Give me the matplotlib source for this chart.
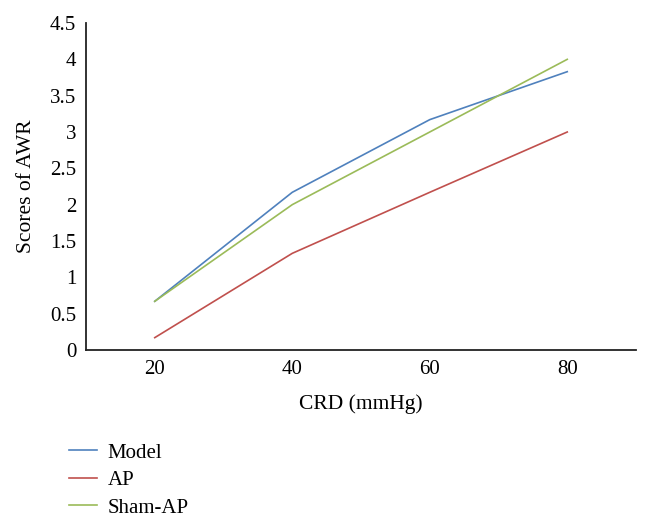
import matplotlib
matplotlib.use("Agg")
import matplotlib.pyplot as plt

categories = ["20", "40", "60", "80"]
model = [0.67, 2.17, 3.17, 3.83]
ap = [0.17, 1.33, 2.17, 3.0]
sham_ap = [0.67, 2.0, 3.0, 4.0]
yticks = [0, 0.5, 1, 1.5, 2, 2.5, 3, 3.5, 4, 4.5]
ytick_labels = ["0", "0.5", "1", "1.5", "2", "2.5", "3", "3.5", "4", "4.5"]

plt.rcParams['font.family'] = ['Liberation Serif', 'DejaVu Serif']

fig = plt.figure(figsize=(6.5, 5.26), dpi=100)
ax = fig.add_axes([86/650, 1-350/526, (636-86)/650, (350-23)/526])

x = list(range(len(categories)))
ax.plot(x, model, color="#4F81BD", lw=1.2, label="Model")
ax.plot(x, ap, color="#C0504D", lw=1.2, label="AP")
ax.plot(x, sham_ap, color="#9BBB59", lw=1.2, label="Sham-AP")

ax.set_xlim(-0.5, 3.5)
ax.set_ylim(0, 4.5)
ax.set_xticks(x)
ax.set_xticklabels(categories)
ax.set_yticks(yticks)
ax.set_yticklabels(ytick_labels)
ax.tick_params(length=0, labelsize=15, pad=7)
for s in ["top", "right"]:
    ax.spines[s].set_visible(False)
for s in ["left", "bottom"]:
    ax.spines[s].set_linewidth(1.3)
    ax.spines[s].set_color("#222222")

ax.set_ylabel("Scores of AWR", fontsize=15.5, labelpad=10)
ax.set_xlabel("CRD (mmHg)", fontsize=15.5, labelpad=11)

fig.legend(loc="upper left", bbox_to_anchor=(69/650, 1-443/526), frameon=False,
           fontsize=15, handlelength=1.35, handletextpad=0.5, labelspacing=0.38,
           borderaxespad=0, borderpad=0)

fig.savefig("out.png", dpi=100)
